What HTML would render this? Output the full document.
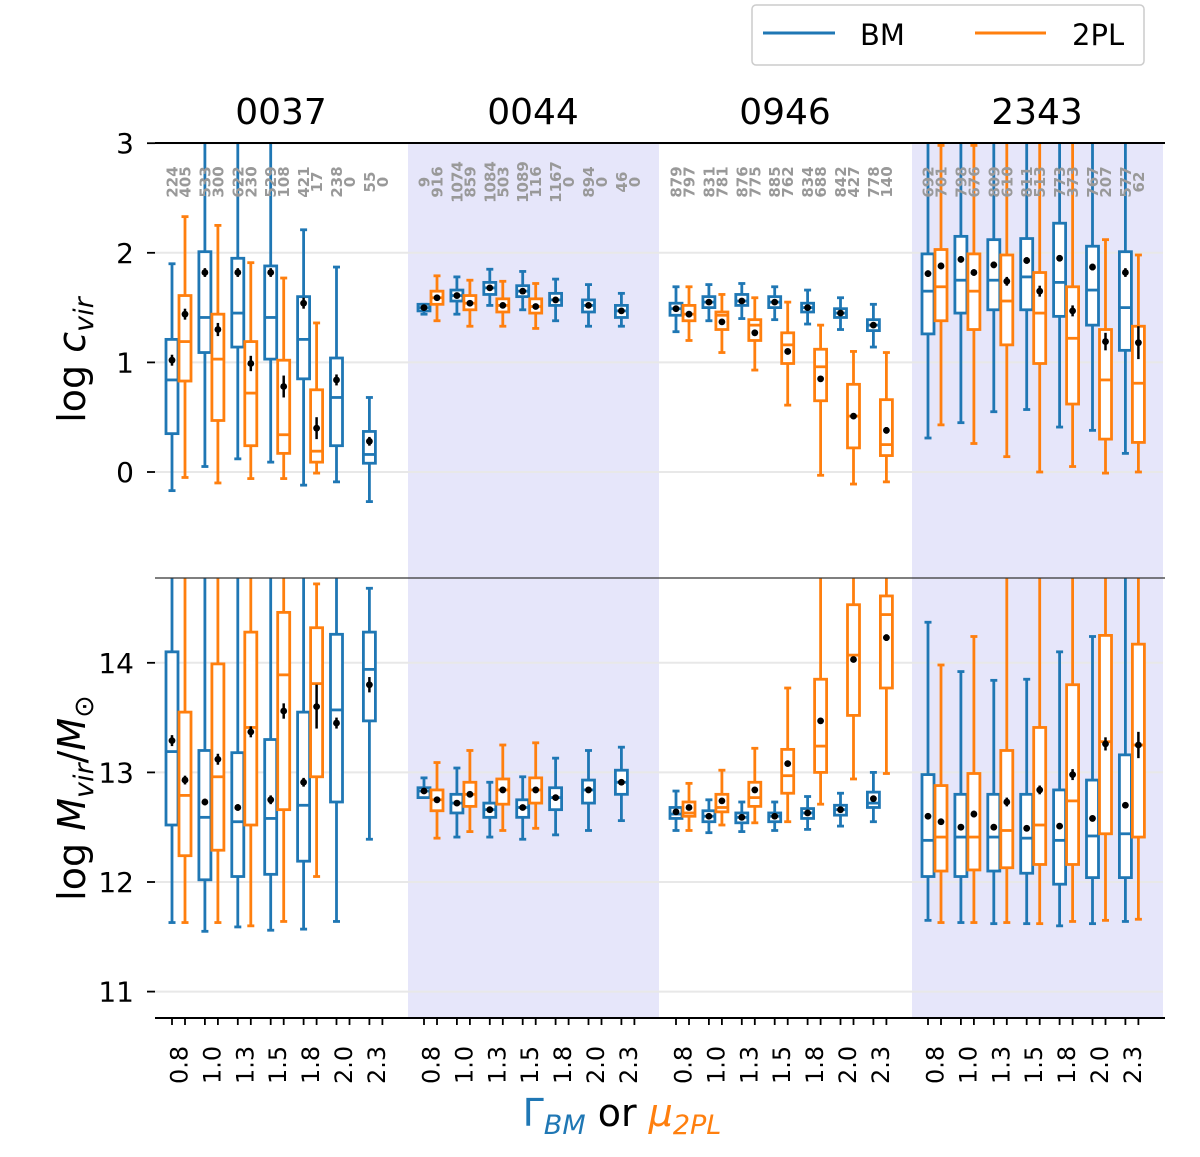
<!DOCTYPE html>
<html><head><meta charset="utf-8"><style>
html,body{margin:0;padding:0;background:#fff;}
svg{display:block;font-family:"DejaVu Sans","Liberation Sans",sans-serif;}
</style></head><body>
<svg id="chart" width="1200" height="1157" viewBox="0 0 1200 1157" xmlns="http://www.w3.org/2000/svg">
<defs>
<clipPath id="clipTop"><rect x="155" y="143" width="1010" height="435"/></clipPath>
<clipPath id="clipBot"><rect x="155" y="578" width="1010" height="440"/></clipPath>
</defs>
<g id="bg"></g>
<g id="grid"></g>
<g id="marks"></g>
<g id="axes"></g>
<g>
<rect x="752" y="5" width="392" height="60" rx="4" fill="#fff" stroke="#ccc" stroke-width="1.5"/>
<line x1="763" y1="33" x2="835" y2="33" stroke="#1f77b4" stroke-width="3"/>
<text x="860" y="45" font-size="29">BM</text>
<line x1="975" y1="33" x2="1046" y2="33" stroke="#ff7f0e" stroke-width="3"/>
<text x="1072" y="45" font-size="29">2PL</text>
</g>
<text transform="translate(85,360) rotate(-90)" text-anchor="middle" font-size="38">log <tspan font-style="italic">c</tspan><tspan font-style="italic" font-size="27" dy="8">vir</tspan></text>
<text transform="translate(85,798) rotate(-90)" text-anchor="middle" font-size="38">log <tspan font-style="italic">M</tspan><tspan font-style="italic" font-size="27" dy="8">vir</tspan><tspan dy="-8">/</tspan><tspan font-style="italic">M</tspan><tspan font-size="27" dy="8">⊙</tspan></text>
<text x="622" y="1126" text-anchor="middle" font-size="38"><tspan fill="#1f77b4">Γ</tspan><tspan fill="#1f77b4" font-style="italic" font-size="27" dy="8">BM</tspan><tspan dy="-8"> or </tspan><tspan fill="#ff7f0e" font-style="italic">μ</tspan><tspan fill="#ff7f0e" font-style="italic" font-size="27" dy="8">2PL</tspan></text>
</svg>
<script>
// each entry: [whislo, q1, median, q3, whishi, mean, meanErr]
const groups = ["0037","0044","0946","2343"];
const xLabels = ["0.8","1.0","1.3","1.5","1.8","2.0","2.3"];
const topTicks = [0,1,2,3];
const botTicks = [11,12,13,14];
const c_0037_bm = [[-0.17,0.35,0.84,1.21,1.90,1.02,0.05],[0.05,1.09,1.41,2.01,3.5,1.82,0.04],[0.12,1.14,1.45,1.95,3.5,1.82,0.04],[0.09,1.03,1.41,1.88,3.5,1.82,0.04],[-0.12,0.85,1.21,1.60,2.21,1.54,0.05],[-0.09,0.24,0.68,1.04,1.87,0.84,0.05],[-0.27,0.08,0.16,0.37,0.68,0.28,0.04]];
const c_0037_pl = [[-0.05,0.83,1.19,1.61,2.33,1.44,0.05],[-0.10,0.47,1.03,1.44,2.25,1.30,0.06],[-0.06,0.24,0.72,1.19,1.91,0.99,0.07],[-0.06,0.17,0.34,1.02,1.77,0.78,0.1],[-0.01,0.09,0.19,0.75,1.36,0.40,0.1],null,null];
const m_0037_bm = [[11.63,12.52,13.19,14.10,15,13.29,0.05],[11.55,12.02,12.59,13.20,15,12.73,0.03],[11.59,12.05,12.55,13.18,15,12.68,0.03],[11.56,12.07,12.58,13.30,15,12.75,0.04],[11.57,12.19,12.70,13.55,15,12.91,0.04],[11.64,12.73,13.57,14.26,15,13.45,0.05],[12.39,13.47,13.94,14.28,14.68,13.80,0.07]];
const m_0037_pl = [[11.63,12.24,12.79,13.55,15,12.93,0.04],[11.63,12.29,12.96,13.99,15,13.12,0.05],[11.60,12.52,13.41,14.28,15,13.37,0.05],[11.64,12.66,13.89,14.46,15,13.56,0.07],[12.05,12.96,13.81,14.32,14.72,13.60,0.2],null,null];
const c_0044_bm = [[1.44,1.47,1.50,1.53,1.53,1.50,0.01],[1.44,1.56,1.61,1.66,1.78,1.61,0.01],[1.52,1.62,1.68,1.73,1.85,1.68,0.01],[1.48,1.60,1.65,1.70,1.83,1.65,0.01],[1.38,1.52,1.57,1.63,1.76,1.57,0.01],[1.33,1.46,1.52,1.57,1.71,1.52,0.01],[1.33,1.41,1.47,1.52,1.63,1.47,0.01]];
const c_0044_pl = [[1.38,1.53,1.59,1.65,1.79,1.59,0.01],[1.33,1.48,1.54,1.61,1.75,1.54,0.01],[1.33,1.46,1.52,1.58,1.74,1.52,0.01],[1.31,1.45,1.51,1.58,1.72,1.51,0.01],null,null,null];
const m_0044_bm = [[12.77,12.77,12.83,12.86,12.95,12.83,0.01],[12.41,12.63,12.72,12.80,13.04,12.72,0.01],[12.41,12.59,12.66,12.72,12.91,12.66,0.01],[12.39,12.59,12.68,12.75,12.96,12.68,0.01],[12.43,12.66,12.77,12.86,13.13,12.77,0.01],[12.47,12.72,12.84,12.93,13.20,12.84,0.01],[12.56,12.80,12.91,13.02,13.23,12.91,0.01]];
const m_0044_pl = [[12.40,12.65,12.75,12.84,13.09,12.75,0.01],[12.46,12.69,12.80,12.91,13.20,12.80,0.01],[12.47,12.71,12.84,12.94,13.25,12.84,0.01],[12.49,12.72,12.84,12.95,13.27,12.84,0.01],null,null,null];
const c_0946_bm = [[1.28,1.43,1.49,1.54,1.69,1.49,0.01],[1.38,1.50,1.55,1.60,1.71,1.55,0.01],[1.40,1.52,1.56,1.62,1.72,1.56,0.01],[1.39,1.50,1.55,1.60,1.69,1.55,0.01],[1.35,1.46,1.50,1.54,1.66,1.50,0.01],[1.30,1.41,1.45,1.49,1.59,1.45,0.01],[1.14,1.29,1.34,1.39,1.53,1.34,0.01]];
const c_0946_pl = [[1.20,1.38,1.44,1.52,1.69,1.44,0.01],[1.09,1.30,1.43,1.46,1.62,1.37,0.01],[0.93,1.20,1.34,1.39,1.59,1.27,0.01],[0.61,0.99,1.16,1.27,1.55,1.10,0.01],[-0.03,0.65,0.96,1.12,1.34,0.85,0.02],[-0.11,0.22,0.51,0.80,1.10,0.51,0.02],[-0.09,0.15,0.25,0.66,1.09,0.38,0.03]];
const m_0946_bm = [[12.47,12.58,12.62,12.68,12.83,12.64,0.01],[12.45,12.55,12.60,12.65,12.75,12.60,0.01],[12.46,12.54,12.59,12.63,12.73,12.59,0.01],[12.47,12.55,12.60,12.63,12.73,12.60,0.01],[12.48,12.58,12.63,12.67,12.78,12.63,0.01],[12.51,12.61,12.66,12.70,12.81,12.66,0.01],[12.55,12.68,12.72,12.82,13.00,12.76,0.01]];
const m_0946_pl = [[12.47,12.60,12.63,12.73,12.90,12.68,0.01],[12.52,12.64,12.68,12.80,13.02,12.74,0.01],[12.54,12.69,12.77,12.91,13.22,12.84,0.01],[12.55,12.81,12.97,13.21,13.77,13.08,0.01],[12.71,13.00,13.24,13.85,15,13.47,0.02],[12.94,13.52,14.07,14.53,15,14.03,0.02],[12.99,13.77,14.44,14.61,15,14.23,0.03]];
const c_2343_bm = [[0.31,1.26,1.65,1.99,3.5,1.81,0.03],[0.45,1.45,1.75,2.15,3.5,1.94,0.03],[0.55,1.48,1.75,2.12,3.5,1.89,0.03],[0.57,1.48,1.78,2.13,3.5,1.93,0.03],[0.41,1.42,1.73,2.27,3.5,1.95,0.03],[0.38,1.34,1.66,2.06,3.5,1.87,0.03],[0.17,1.11,1.50,2.01,3.5,1.82,0.04]];
const c_2343_pl = [[0.43,1.38,1.69,2.03,2.98,1.88,0.03],[0.26,1.30,1.65,1.99,2.98,1.82,0.03],[0.14,1.16,1.56,1.98,3.5,1.74,0.04],[0.00,0.99,1.45,1.82,3.5,1.65,0.05],[0.05,0.62,1.22,1.69,3.5,1.47,0.05],[-0.01,0.30,0.84,1.30,2.12,1.19,0.08],[0.00,0.27,0.81,1.33,1.98,1.18,0.15]];
const m_2343_bm = [[11.65,12.05,12.38,12.98,14.37,12.60,0.02],[11.63,12.05,12.41,12.80,13.92,12.50,0.02],[11.62,12.10,12.41,12.80,13.84,12.50,0.02],[11.62,12.08,12.40,12.80,13.85,12.49,0.02],[11.60,11.98,12.38,12.84,14.10,12.51,0.02],[11.62,12.04,12.42,12.93,14.24,12.58,0.02],[11.64,12.04,12.44,13.16,15,12.70,0.02]];
const m_2343_pl = [[11.63,12.10,12.41,12.88,13.98,12.55,0.03],[11.63,12.11,12.41,12.99,14.24,12.62,0.03],[11.63,12.13,12.47,13.20,15,12.73,0.04],[11.62,12.16,12.52,13.41,15,12.84,0.04],[11.64,12.16,12.74,13.80,15,12.98,0.05],[11.65,12.44,13.28,14.25,15,13.26,0.06],[11.66,12.41,13.25,14.17,15,13.25,0.12]];
const counts_0037 = [[224,405],[533,300],[622,230],[529,108],[421,17],[238,0],[55,0]];
const counts_0044 = [[9,916],[1074,859],[1084,503],[1089,116],[1167,0],[894,0],[46,0]];
const counts_0946 = [[879,797],[831,781],[876,775],[885,762],[834,688],[842,427],[778,140]];
const counts_2343 = [[692,701],[798,676],[809,610],[811,513],[773,373],[767,207],[577,62]];

const topData = {bm:[c_0037_bm,c_0044_bm,c_0946_bm,c_2343_bm], pl:[c_0037_pl,c_0044_pl,c_0946_pl,c_2343_pl]};
const botData = {bm:[m_0037_bm,m_0044_bm,m_0946_bm,m_2343_bm], pl:[m_0037_pl,m_0044_pl,m_0946_pl,m_2343_pl]};
const countData = [counts_0037,counts_0044,counts_0946,counts_2343];

const NS = "http://www.w3.org/2000/svg";
const X0 = 155, X1 = 1163, GW = 252, SLOT = 32.9, PAD = 17, OFF = 13;
const yTop = v => 472 - 109.6 * v;
const yBot = v => 882 - 109.6 * (v - 12);
const xBM = (g, i) => X0 + g * GW + PAD + SLOT * i;
const xPL = (g, i) => xBM(g, i) + OFF;
function el(tag, attrs, parent) { const e = document.createElementNS(NS, tag); for (const k in attrs) e.setAttribute(k, attrs[k]); parent.appendChild(e); return e; }
const bg = document.getElementById('bg'), grid = document.getElementById('grid'), marks = document.getElementById('marks'), axes = document.getElementById('axes');

[1,3].forEach(g => {
  const r = el('rect', {x: X0 + g*GW + 1, y: 143, width: GW - 1, height: 875, fill: '#e6e6fa'}, bg);
  
  
});
topTicks.forEach(t => {
  const y = yTop(t);
  el('line', {x1: X0, x2: X1, y1: y, y2: y, stroke: '#e8e8e8', 'stroke-width': 2}, grid);
  el('line', {x1: 147, x2: 155, y1: y, y2: y, stroke: '#000', 'stroke-width': 1.8}, axes);
  const tx = el('text', {x: 134, y: y + 10, 'text-anchor': 'end', 'font-size': 28}, axes);
  tx.textContent = t;
  
  
});
botTicks.forEach(t => {
  const y = yBot(t);
  el('line', {x1: X0, x2: X1, y1: y, y2: y, stroke: '#e8e8e8', 'stroke-width': 2}, grid);
  el('line', {x1: 147, x2: 155, y1: y, y2: y, stroke: '#000', 'stroke-width': 1.8}, axes);
  const tx = el('text', {x: 134, y: y + 10, 'text-anchor': 'end', 'font-size': 28}, axes);
  tx.textContent = t;
  
  
});
el('line', {x1: X0, x2: X1 + 2, y1: 143, y2: 143, stroke: '#000', 'stroke-width': 2}, axes);
el('line', {x1: X0, x2: X1 + 2, y1: 578, y2: 578, stroke: '#333', 'stroke-width': 1.3}, axes);
el('line', {x1: X0, x2: X1 + 2, y1: 1018, y2: 1018, stroke: '#000', 'stroke-width': 2}, axes);

function drawBox(parent, x, d, yf, color, name) {
  if (!d) return;
  const g = el('g', {}, parent);
  
  
  const hw = 6, cw = 3.5;
  const [lo, q1, med, q3, hi, mean, err] = d;
  const s = {stroke: color, 'stroke-width': 2.8, fill: 'none'};
  el('line', Object.assign({x1: x, x2: x, y1: yf(hi), y2: yf(q3)}, s), g);
  el('line', Object.assign({x1: x, x2: x, y1: yf(q1), y2: yf(lo)}, s), g);
  el('line', Object.assign({x1: x - cw, x2: x + cw, y1: yf(hi), y2: yf(hi)}, s), g);
  el('line', Object.assign({x1: x - cw, x2: x + cw, y1: yf(lo), y2: yf(lo)}, s), g);
  el('rect', Object.assign({x: x - hw, y: yf(q3), width: 2*hw, height: Math.max(0.5, yf(q1) - yf(q3))}, s, {fill: '#fff'}), g);
  el('line', Object.assign({x1: x - hw, x2: x + hw, y1: yf(med), y2: yf(med)}, s), g);
  el('line', {x1: x, x2: x, y1: yf(mean + err), y2: yf(mean - err), stroke: '#000', 'stroke-width': 2.5}, g);
  el('circle', {cx: x, cy: yf(mean), r: 3.4, fill: '#000'}, g);
}

const topG = el('g', {'clip-path': 'url(#clipTop)'}, marks);
const botG = el('g', {'clip-path': 'url(#clipBot)'}, marks);
for (let g = 0; g < 4; g++) {
  for (let i = 0; i < xLabels.length; i++) {
    drawBox(topG, xBM(g, i), topData.bm[g][i], yTop, '#1f77b4', 'box-cvir-bm-' + groups[g] + '-' + xLabels[i]);
    drawBox(topG, xPL(g, i), topData.pl[g][i], yTop, '#ff7f0e', 'box-cvir-2pl-' + groups[g] + '-' + xLabels[i]);
    drawBox(botG, xBM(g, i), botData.bm[g][i], yBot, '#1f77b4', 'box-mvir-bm-' + groups[g] + '-' + xLabels[i]);
    drawBox(botG, xPL(g, i), botData.pl[g][i], yBot, '#ff7f0e', 'box-mvir-2pl-' + groups[g] + '-' + xLabels[i]);
    [xBM(g, i), xPL(g, i)].forEach(xx => el('line', {x1: xx, x2: xx, y1: 1018, y2: 1025, stroke: '#000', 'stroke-width': 1.8}, axes));
    const mx = (xBM(g, i) + xPL(g, i)) / 2;
    const lab = el('text', {transform: 'translate(' + (mx + 9) + ',1084) rotate(-90)', 'font-size': 24}, axes);
    lab.textContent = xLabels[i];
    
    
    const c = countData[g][i];
    const ct = el('text', {transform: 'translate(' + mx + ',182) rotate(-90)', 'font-size': 15, 'font-weight': 'bold', fill: '#999', 'text-anchor': 'middle'}, axes);
    const t1 = el('tspan', {x: 0, y: -1}, ct); t1.textContent = c[0];
    const t2 = el('tspan', {x: 0, y: 12}, ct); t2.textContent = c[1];
    
    
  }
  const title = el('text', {x: X0 + g*GW + GW/2, y: 124, 'text-anchor': 'middle', 'font-size': 36}, axes);
  title.textContent = groups[g];
  
  
}
</script>
</body></html>
